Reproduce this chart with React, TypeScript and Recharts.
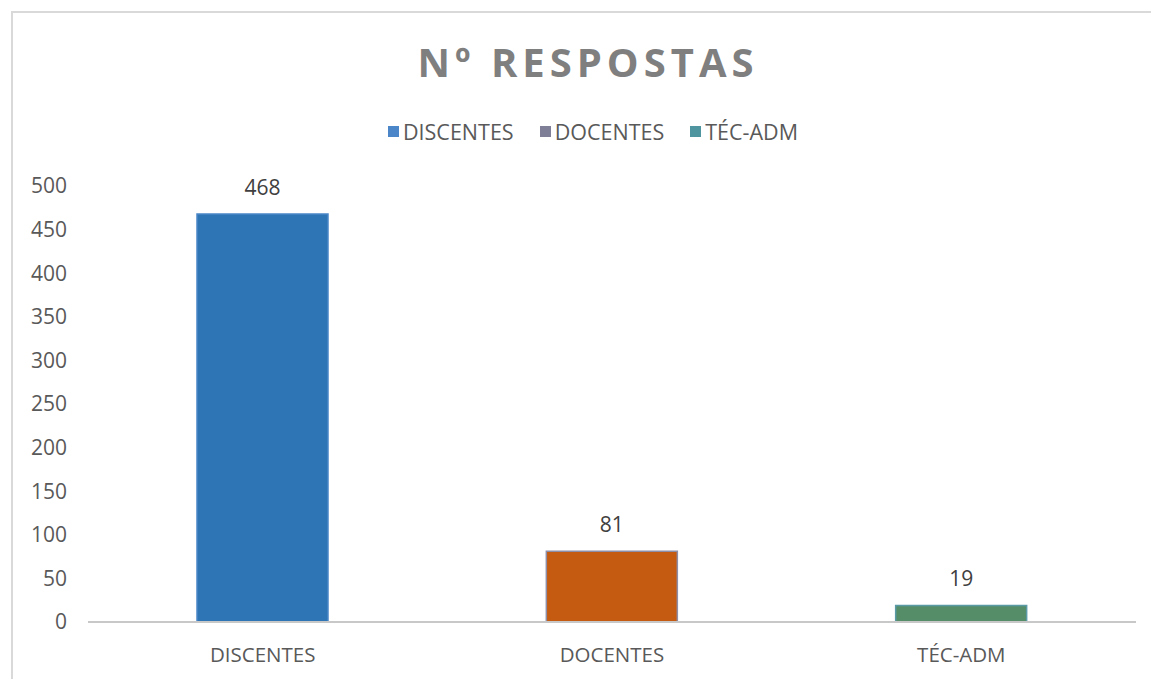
import { Bar, BarChart, Cell, LabelList, XAxis, YAxis } from "recharts";

const categories = ["DISCENTES", "DOCENTES", "TÉC-ADM"];
const respostas = [468, 81, 19];
const yTicks = [0, 50, 100, 150, 200, 250, 300, 350, 400, 450, 500];

const barFills = ["#2e75b6", "#c55a11", "#548d68"];
const barStrokes = ["#4a86c8", "#8e8ea6", "#5a9aa6"];
const legendColors = ["#4a86c8", "#7f7f98", "#4f959f"];

const data = categories.map((name, i) => ({ name, value: respostas[i] }));

const font = "'Open Sans', 'Liberation Sans', sans-serif";

function Legend() {
  return (
    <div
      style={{
        position: "absolute",
        top: 117,
        left: 0,
        width: 1151,
        display: "flex",
        justifyContent: "center",
        gap: 26,
        paddingLeft: 35,
        boxSizing: "border-box",
        fontFamily: font,
        fontSize: 21.5,
        color: "#595959",
      }}
    >
      {categories.map((c, i) => (
        <span key={c} style={{ display: "inline-flex", alignItems: "center", gap: 4 }}>
          <span style={{ width: 11, height: 11, background: legendColors[i], display: "inline-block" }} />
          {c}
        </span>
      ))}
    </div>
  );
}

export default function App() {
  return (
    <div
      style={{
        position: "absolute",
        left: 0,
        top: 0,
        width: 1151,
        height: 679,
        background: "#fff",
        overflow: "hidden",
      }}
    >
      <div
        style={{
          position: "absolute",
          left: 11,
          top: 11,
          width: 1160,
          height: 700,
          borderLeft: "2px solid #d9d9d9",
          borderTop: "2px solid #d9d9d9",
        }}
      />
      <div
        style={{
          position: "absolute",
          top: 34,
          left: 0,
          width: 1176,
          textAlign: "center",
          fontFamily: font,
          fontWeight: 700,
          fontSize: 40,
          letterSpacing: 5,
          color: "#7f7f7f",
        }}
      >
        Nº RESPOSTAS
      </div>
      <Legend />
      <div style={{ position: "absolute", left: 0, top: 0 }}>
        <BarChart
          width={1151}
          height={679}
          data={data}
          margin={{ top: 186, right: 15, bottom: 0, left: 28 }}
        >
          <XAxis
            dataKey="name"
            height={57}
            tickLine={false}
            axisLine={{ stroke: "#c8c8c8", strokeWidth: 2 }}
            tickMargin={19}
            tick={{ fill: "#595959", fontSize: 20.5, fontFamily: font }}
          />
          <YAxis
            width={60}
            domain={[0, 500]}
            ticks={yTicks}
            interval={0}
            axisLine={false}
            tickLine={false}
            tickMargin={15}
            tick={{ fill: "#595959", fontSize: 21, fontFamily: font }}
          />
          <Bar dataKey="value" barSize={131} isAnimationActive={false}>
            {data.map((d, i) => (
              <Cell key={d.name} fill={barFills[i]} stroke={barStrokes[i]} strokeWidth={1.5} />
            ))}
            <LabelList
              dataKey="value"
              position="top"
              offset={19}
              style={{ fill: "#404040", fontSize: 21, fontFamily: font }}
            />
          </Bar>
        </BarChart>
      </div>
    </div>
  );
}
